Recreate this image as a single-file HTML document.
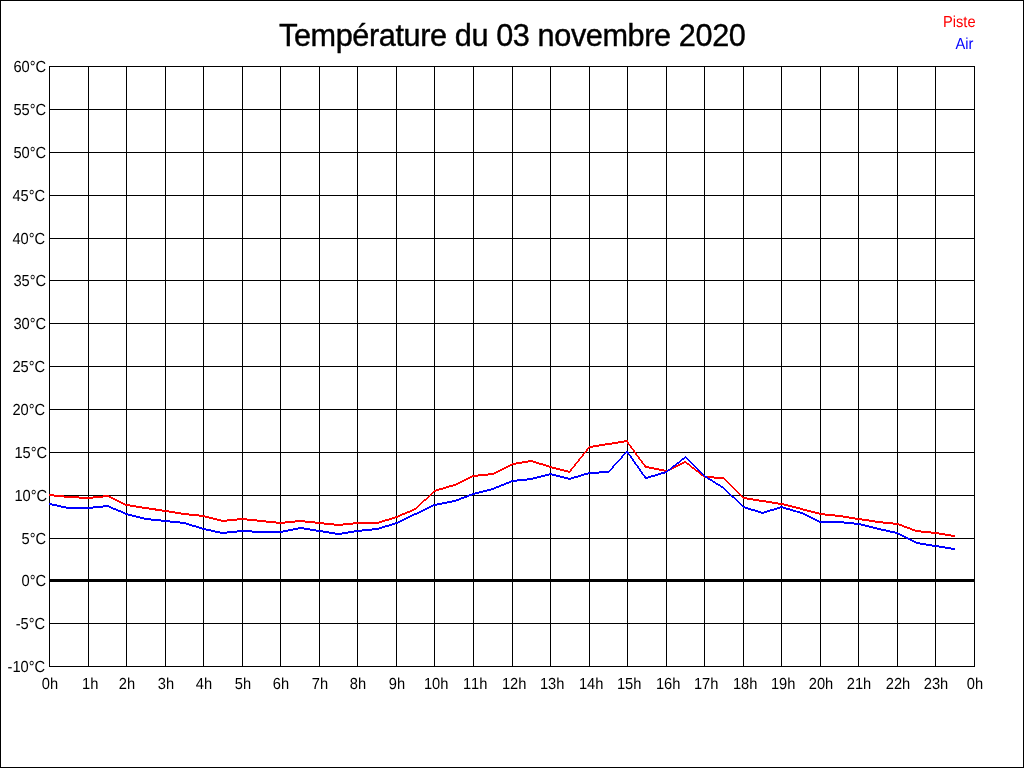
<!DOCTYPE html>
<html lang="fr"><head><meta charset="utf-8"><title>Température du 03 novembre 2020</title>
<style>
html,body{margin:0;padding:0;background:#fff;}
body{width:1024px;height:768px;overflow:hidden;position:relative;}
svg{position:absolute;left:0;top:0;display:block;will-change:transform;}
text{font-family:"Liberation Sans",Arial,Helvetica,sans-serif;}
.g rect{fill:#000;}
</style></head><body>
<svg width="1024" height="768" viewBox="0 0 1024 768">
<rect x="0" y="0" width="1024" height="768" fill="#fff"/>
<g class="g" shape-rendering="crispEdges">
<rect x="0" y="0" width="1024" height="1"/><rect x="0" y="767" width="1024" height="1"/>
<rect x="0" y="0" width="1" height="768"/><rect x="1023" y="0" width="1" height="768"/>
<rect x="49" y="66" width="1" height="601"/>
<rect x="88" y="66" width="1" height="601"/>
<rect x="126" y="66" width="1" height="601"/>
<rect x="165" y="66" width="1" height="601"/>
<rect x="203" y="66" width="1" height="601"/>
<rect x="242" y="66" width="1" height="601"/>
<rect x="280" y="66" width="1" height="601"/>
<rect x="319" y="66" width="1" height="601"/>
<rect x="357" y="66" width="1" height="601"/>
<rect x="396" y="66" width="1" height="601"/>
<rect x="434" y="66" width="1" height="601"/>
<rect x="473" y="66" width="1" height="601"/>
<rect x="512" y="66" width="1" height="601"/>
<rect x="550" y="66" width="1" height="601"/>
<rect x="589" y="66" width="1" height="601"/>
<rect x="627" y="66" width="1" height="601"/>
<rect x="666" y="66" width="1" height="601"/>
<rect x="704" y="66" width="1" height="601"/>
<rect x="743" y="66" width="1" height="601"/>
<rect x="781" y="66" width="1" height="601"/>
<rect x="820" y="66" width="1" height="601"/>
<rect x="858" y="66" width="1" height="601"/>
<rect x="897" y="66" width="1" height="601"/>
<rect x="935" y="66" width="1" height="601"/>
<rect x="974" y="66" width="1" height="601"/>
<rect x="49" y="66" width="926" height="1"/>
<rect x="49" y="109" width="926" height="1"/>
<rect x="49" y="152" width="926" height="1"/>
<rect x="49" y="195" width="926" height="1"/>
<rect x="49" y="238" width="926" height="1"/>
<rect x="49" y="280" width="926" height="1"/>
<rect x="49" y="323" width="926" height="1"/>
<rect x="49" y="366" width="926" height="1"/>
<rect x="49" y="409" width="926" height="1"/>
<rect x="49" y="452" width="926" height="1"/>
<rect x="49" y="495" width="926" height="1"/>
<rect x="49" y="538" width="926" height="1"/>
<rect x="49" y="623" width="926" height="1"/>
<rect x="49" y="666" width="926" height="1"/>
<rect x="49" y="579" width="926" height="3"/>
</g>
<g shape-rendering="crispEdges" stroke="none" fill-rule="nonzero">
<path fill="#f00" d="M49,493.95 69,496.05 69,498.05 49,495.95ZM68,495.98 89,497.02 89,499.02 68,497.98ZM88,497.05 108,494.95 108,496.95 88,499.05ZM107,494.76 127,504.24 127,506.24 107,496.76ZM126,503.92 146,507.08 146,509.08 126,505.92ZM145,506.93 166,510.07 166,512.08 145,508.93ZM165,509.92 185,513.08 185,515.08 165,511.92ZM184,512.95 204,515.05 204,517.05 184,514.95ZM203,514.87 223,520.13 223,522.13 203,516.87ZM222,520.05 243,517.95 243,519.95 222,522.05ZM242,517.95 262,520.05 262,522.05 242,519.95ZM261,519.95 281,522.05 281,524.05 261,521.95ZM280,522.05 301,519.95 301,521.95 280,524.05ZM300,519.95 320,522.05 320,524.05 300,521.95ZM319,521.95 339,524.05 339,526.05 319,523.95ZM338,524.05 358,521.95 358,523.95 338,526.05ZM357,522 378,522 378,524 357,524ZM377,522.16 397,515.84 397,517.84 377,524.16ZM396,516.21 416,507.79 416,509.79 396,518.21ZM415,508.47 435,489.53 435,491.53 415,510.47ZM434,490.15 455,483.85 455,485.85 434,492.15ZM454,484.24 474,474.76 474,476.76 454,486.24ZM473,475.05 493,472.95 493,474.95 473,477.05ZM492,473.25 513,462.75 513,464.75 492,475.25ZM512,463.08 532,459.92 532,461.92 512,465.08ZM531,459.84 551,466.16 551,468.16 531,461.84ZM550,465.87 570,471.13 570,473.13 550,467.87ZM588.40,447 590.40,447 569.60,473 567.60,473ZM589,446.08 609,442.92 609,444.92 589,448.08ZM608,443.08 628,439.92 628,441.92 608,445.08ZM625.63,441 627.63,441 647.37,468 645.37,468ZM646,465.90 667,470.10 667,472.10 646,467.90ZM666,470.24 686,460.76 686,462.76 666,472.24ZM685,460.61 705,476.39 705,478.39 685,462.61ZM704,475.97 724,477.03 724,479.03 704,477.97ZM723,476.50 744,497.50 744,499.50 723,478.50ZM743,496.92 763,500.08 763,502.08 743,498.92ZM762,499.92 782,503.08 782,505.08 762,501.92ZM781,502.88 802,508.12 802,510.12 781,504.88ZM801,507.87 821,513.13 821,515.13 801,509.87ZM820,512.95 840,515.05 840,517.05 820,514.95ZM839,514.92 859,518.08 859,520.08 839,516.92ZM858,517.92 879,521.08 879,523.08 858,519.92ZM878,520.95 898,523.05 898,525.05 878,522.95ZM897,522.82 917,530.18 917,532.18 897,524.82ZM916,529.95 936,532.05 936,534.05 916,531.95ZM935,531.92 955,535.08 955,537.08 935,533.92Z"/>
<path fill="#00f" d="M49,502.89 69,507.11 69,509.11 49,504.89ZM68,507 89,507 89,509 68,509ZM88,507.05 108,504.95 108,506.95 88,509.05ZM107,504.79 127,513.21 127,515.21 107,506.79ZM126,512.87 146,518.13 146,520.13 126,514.87ZM145,517.95 166,520.05 166,522.05 145,519.95ZM165,519.95 185,522.05 185,524.05 165,521.95ZM184,521.84 204,528.16 204,530.16 184,523.84ZM203,527.89 223,532.11 223,534.11 203,529.89ZM222,532.05 243,529.95 243,531.95 222,534.05ZM242,529.97 262,531.03 262,533.03 242,531.97ZM261,531 281,531 281,533 261,533ZM280,531.10 301,526.90 301,528.90 280,533.10ZM300,526.92 320,530.08 320,532.08 300,528.92ZM319,529.92 339,533.08 339,535.08 319,531.92ZM338,533.08 358,529.92 358,531.92 338,535.08ZM357,530.05 378,527.95 378,529.95 357,532.05ZM377,528.16 397,521.84 397,523.84 377,530.16ZM396,522.24 416,512.76 416,514.76 396,524.24ZM415,513.24 435,503.76 435,505.76 415,515.24ZM434,504.10 455,499.90 455,501.90 434,506.10ZM454,500.18 474,492.82 474,494.82 454,502.18ZM473,493.13 493,487.87 493,489.87 473,495.13ZM492,488.20 513,479.80 513,481.80 492,490.20ZM512,480.05 532,477.95 532,479.95 512,482.05ZM531,478.13 551,472.87 551,474.87 531,480.13ZM550,472.87 570,478.13 570,480.13 550,474.87ZM569,478.15 590,471.85 590,473.85 569,480.15ZM589,472.03 609,470.97 609,472.97 589,474.03ZM626.45,451 628.45,451 608.55,473 606.55,473ZM625.65,451 627.65,451 647.35,479 645.35,479ZM646,477.15 667,470.85 667,472.85 646,479.15ZM666,471.39 686,455.61 686,457.61 666,473.39ZM685,455.50 705,475.50 705,477.50 685,457.50ZM704,474.68 724,487.32 724,489.32 704,476.68ZM723,486.52 744,506.48 744,508.48 723,488.52ZM743,505.84 763,512.16 763,514.16 743,507.84ZM762,512.16 782,505.84 782,507.84 762,514.16ZM781,505.85 802,512.15 802,514.15 781,507.85ZM801,511.76 821,521.24 821,523.24 801,513.76ZM820,521 840,521 840,523 820,523ZM839,520.95 859,523.05 859,525.05 839,522.95ZM858,522.88 879,528.12 879,530.12 858,524.88ZM878,527.89 898,532.11 898,534.11 878,529.89ZM897,531.74 917,542.26 917,544.26 897,533.74ZM916,541.92 936,545.08 936,547.08 916,543.92ZM935,544.92 955,548.08 955,550.08 935,546.92Z"/>
</g>
<text x="512.2" y="46" font-size="30.67" text-anchor="middle" fill="#000" letter-spacing="-0.4" stroke="#000" stroke-width="0.4">Température du 03 novembre 2020</text>
<g font-size="14.67" text-anchor="end" stroke-width="0" transform="scale(1,1.09)" style="text-rendering:geometricPrecision;font-kerning:none">
<text x="975.6" y="24.77" fill="#f00" stroke="#f00">Piste</text>
<text x="973.3" y="44.95" fill="#00f" stroke="#00f">Air</text>
</g>
<g font-size="14.67" text-anchor="end" fill="#000" stroke="#000" stroke-width="0" transform="scale(1,1.09)" style="text-rendering:geometricPrecision;font-kerning:none">
<text x="46.2" y="66.06">60°C</text>
<text x="46.2" y="105.50">55°C</text>
<text x="46.2" y="144.95">50°C</text>
<text x="45.2" y="184.40">45°C</text>
<text x="45.2" y="223.85">40°C</text>
<text x="46.2" y="262.39">35°C</text>
<text x="46.2" y="301.83">30°C</text>
<text x="45.2" y="341.28">25°C</text>
<text x="45.2" y="380.73">20°C</text>
<text x="47.2" y="420.18">15°C</text>
<text x="47.2" y="459.63">10°C</text>
<text x="46.2" y="499.08">5°C</text>
<text x="46.2" y="537.61">0°C</text>
<text x="45.2" y="577.06">-5°C</text>
<text x="45.2" y="616.51">-10°C</text>
</g>
<g font-size="14.67" text-anchor="middle" fill="#000" stroke="#000" stroke-width="0" transform="scale(1,1.09)" style="text-rendering:geometricPrecision;font-kerning:none">
<text x="50.0" y="632.11">0h</text>
<text x="90.2" y="632.11">1h</text>
<text x="127.0" y="632.11">2h</text>
<text x="166.0" y="632.11">3h</text>
<text x="204.0" y="632.11">4h</text>
<text x="243.0" y="632.11">5h</text>
<text x="281.0" y="632.11">6h</text>
<text x="320.0" y="632.11">7h</text>
<text x="358.0" y="632.11">8h</text>
<text x="397.0" y="632.11">9h</text>
<text x="436.2" y="632.11">10h</text>
<text x="475.2" y="632.11">11h</text>
<text x="514.2" y="632.11">12h</text>
<text x="552.2" y="632.11">13h</text>
<text x="591.2" y="632.11">14h</text>
<text x="629.2" y="632.11">15h</text>
<text x="668.2" y="632.11">16h</text>
<text x="706.2" y="632.11">17h</text>
<text x="745.2" y="632.11">18h</text>
<text x="783.2" y="632.11">19h</text>
<text x="821.0" y="632.11">20h</text>
<text x="859.0" y="632.11">21h</text>
<text x="898.0" y="632.11">22h</text>
<text x="936.0" y="632.11">23h</text>
<text x="975.0" y="632.11">0h</text>
</g>
</svg></body></html>
